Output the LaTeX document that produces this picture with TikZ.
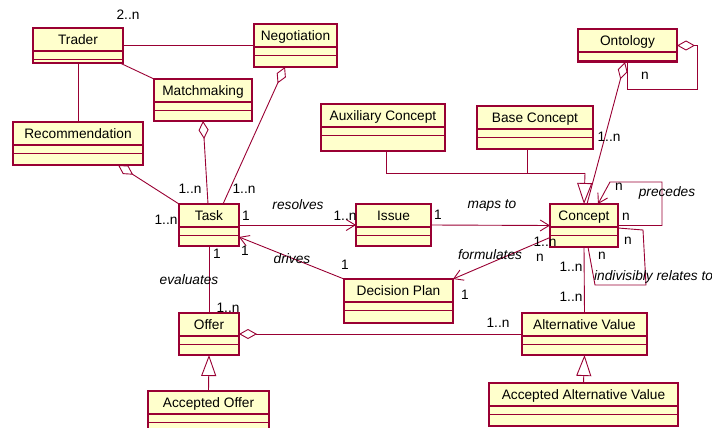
\documentclass[tikz,border=0pt]{standalone}
\usepackage{fontspec}
\setmainfont{Liberation Sans}
\usetikzlibrary{arrows.meta}
\definecolor{umlred}{RGB}{153,0,51}
\definecolor{umlfill}{RGB}{255,255,204}
\newcommand{\umlfont}{\fontsize{13.7}{16}\selectfont}
\tikzset{
  classbox/.style={draw=umlred, fill=umlfill, line width=1.2pt, inner sep=0pt, outer sep=0pt,
    anchor=north west, text height=16.4pt, font=\umlfont},
  assoc/.style={draw=umlred, line width=0.9pt},
  aggr/.style={assoc, {Diamond[open,length=18pt,width=10pt]}-},
  navig/.style={assoc, -{Straight Barb[length=9pt,width=11pt]}},
  gener/.style={assoc, -{Triangle[open,length=21pt,width=15pt]}},
  mult/.style={inner sep=0pt, font=\umlfont},
  role/.style={inner sep=0pt, font=\umlfont\itshape},
}
% yscale=-1 below: a positive yshift goes down
\newcommand{\compartments}[1]{%
  \draw[umlred, line width=1.2pt] ([yshift=23pt]#1.north west) -- ([yshift=23pt]#1.north east)
    ([yshift=31.5pt]#1.north west) -- ([yshift=31.5pt]#1.north east);}
\begin{document}
\begin{tikzpicture}[x=1pt,y=1pt,yscale=-1]
	\useasboundingbox (0,0) rectangle (712,428);
	\clip (0,0) rectangle (712,428);
	% classes
	\node[classbox, minimum width=90pt, text depth=18.6pt] (trader) at (33,28) {Trader};
	\node[classbox, minimum width=83pt, text depth=26.6pt] (negotiation) at (254,24) {Negotiation};
	\node[classbox, minimum width=98pt, text depth=25.6pt] (matchmaking) at (154,79) {Matchmaking};
	\node[classbox, minimum width=130pt, text depth=26.6pt] (recommendation) at (13,122) {Recommendation};
	\node[classbox, minimum width=124pt, text depth=30.6pt] (auxconcept) at (321,104) {Auxiliary Concept};
	\node[classbox, minimum width=116pt, text depth=26.6pt] (baseconcept) at (477,106) {Base Concept};
	\node[classbox, minimum width=99pt, text depth=16.6pt] (ontology) at (578,29) {Ontology};
	\node[classbox, minimum width=60pt, text depth=25.6pt] (task) at (179,204) {Task};
	\node[classbox, minimum width=75pt, text depth=25.6pt] (issue) at (356,204) {Issue};
	\node[classbox, minimum width=68pt, text depth=26.6pt] (concept) at (550,204) {Concept};
	\node[classbox, minimum width=109pt, text depth=27.6pt] (decisionplan) at (344,279) {Decision Plan};
	\node[classbox, minimum width=60pt, text depth=25.6pt] (offer) at (179,313) {Offer};
	\node[classbox, minimum width=125pt, text depth=25.6pt] (altvalue) at (522,313) {Alternative Value};
	\node[classbox, minimum width=121pt, text depth=27.6pt] (acceptedoffer) at (148,391) {Accepted Offer};
	\node[classbox, minimum width=189pt, text depth=26.6pt] (acceptedalt) at (489,383) {Accepted Alternative Value};
	\foreach \c in {trader,negotiation,matchmaking,recommendation,auxconcept,baseconcept,ontology,
		task,issue,concept,decisionplan,offer,altvalue,acceptedoffer,acceptedalt}
		{\compartments{\c}}
	
	% associations
	\draw[assoc] (trader.east) -- (negotiation.west);
	\draw[assoc] (trader.south) -- (recommendation.north);
	\draw[assoc] ([xshift=-3pt]trader.south east) -- (matchmaking.north west);
	\draw[aggr] (matchmaking.south) -- ([xshift=-1pt]task.north);
	\draw[aggr] ([xshift=-10.5pt]negotiation.south) -- ([xshift=14pt]task.north);
	\draw[aggr] ([xshift=40pt]recommendation.south) -- (task.north west);
	\draw[navig] (task.east) -- (issue.west);
	\draw[navig] (issue.east) -- (concept.west);
	\draw[navig] ([yshift=12pt]concept.west) -- (decisionplan.north east);
	\draw[navig] (decisionplan.north west) -- ([yshift=12pt]task.east);
	\draw[assoc] (task.south) -- (offer.north);
	\draw[aggr] (offer.east) -- (altvalue.west);
	\draw[assoc] (concept.south) -- (altvalue.north);
	\draw[aggr] ([xshift=-2.5pt]ontology.south) -- ([xshift=3pt]concept.north);
	\draw[aggr] (ontology.east) -- ++(20,0) |- ([yshift=27pt]ontology.south) -- (ontology.south);
	\draw[navig] (concept.east) -- ++(44,0) -- ++(0,-43.5) -- ++(-52,0) -- ([xshift=14pt]concept.north);
	\draw[assoc] ([yshift=2.5pt]concept.east) -- ++(25,2) -- ++(3,55) -- ++(-51,0) -- ([xshift=4pt]concept.south);
	
	% generalizations
	\coordinate (conceptjoin) at (585,173);
	\draw[assoc] ([xshift=3pt]auxconcept.south) |- (conceptjoin);
	\draw[assoc] ([xshift=-8pt]baseconcept.south) |- (conceptjoin);
	\draw[gener] (conceptjoin) -- (concept.north);
	\draw[gener] (acceptedoffer.north) -- (offer.south);
	\draw[gener] (acceptedalt.north) -- (altvalue.south);
	
	% multiplicities and roles
	\node[mult] (m1) at (128,15) {2..n};
	\node[mult] (m2) at (190,189) {1..n};
	\node[mult] (m3) at (244,189) {1..n};
	\node[mult] (m4) at (166,220) {1..n};
	\node[mult] (m5) at (246,216) {1};
	\node[role] (r1) at (298,205) {resolves};
	\node[mult] (m6) at (345,216) {1..n};
	\node[mult] (m7) at (438,215) {1};
	\node[role] (r2) at (492,205) {maps to};
	\node[mult] (m8) at (245,251) {1};
	\node[role] (r3) at (292,259) {drives};
	\node[mult] (m9) at (345,265) {1};
	\node[mult] (m10) at (217,254) {1};
	\node[role] (r4) at (189,280) {evaluates};
	\node[mult] (m11) at (228,308) {1..n};
	\node[mult] (m12) at (545,242) {1..n};
	\node[mult] (m13) at (540,258) {n};
	\node[role] (r5) at (490,255) {formulates};
	\node[mult] (m14) at (465,295) {1};
	\node[mult] (m15) at (571,267) {1..n};
	\node[mult] (m16) at (571,297) {1..n};
	\node[mult] (m17) at (498,323) {1..n};
	\node[mult] (m18) at (609,137) {1..n};
	\node[mult] (m19) at (645,76) {n};
	\node[mult] (m20) at (619,187) {n};
	\node[role] (r6) at (667,193) {precedes};
	\node[mult] (m21) at (626,217) {n};
	\node[mult] (m22) at (628,241) {n};
	\node[mult] (m23) at (602,256) {n};
	\node[role, anchor=west] (r7) at (594,277) {indivisibly relates to};
\end{tikzpicture}
\end{document}
